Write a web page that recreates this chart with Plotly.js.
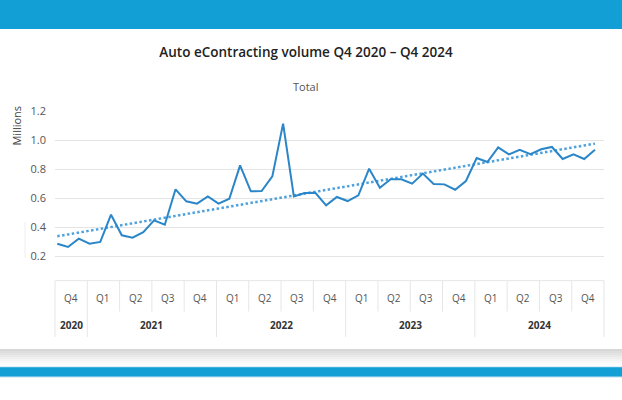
<!DOCTYPE html>
<html>
<head>
<meta charset="utf-8">
<script src="https://cdn.plot.ly/plotly-3.0.1.min.js"></script>
<style>
  html, body { margin: 0; padding: 0; background: #ffffff; }
  #chart { width: 622px; height: 400px; }
</style>
</head>
<body>
<div id="chart"></div>
<script>
// Monthly auto eContracting volume (millions), Oct 2020 – Dec 2024
const monthlyVolume = [
  0.285, 0.262, 0.320, 0.285, 0.297, 0.485, 0.343, 0.326, 0.365, 0.446,
  0.416, 0.660, 0.577, 0.561, 0.611, 0.561, 0.595, 0.825, 0.646, 0.648,
  0.749, 1.113, 0.611, 0.634, 0.636, 0.549, 0.607, 0.579, 0.618, 0.802,
  0.671, 0.729, 0.729, 0.699, 0.768, 0.697, 0.694, 0.657, 0.717, 0.876,
  0.848, 0.949, 0.901, 0.933, 0.903, 0.936, 0.952, 0.869, 0.901, 0.869,
  0.933
];
// Linear trend line end values (first and last month)
const trendEnds = [0.336, 0.975];

// Category axis table labels
const quarterLabels = ['Q4','Q1','Q2','Q3','Q4','Q1','Q2','Q3','Q4','Q1','Q2','Q3','Q4','Q1','Q2','Q3','Q4'];
const quarterYears  = ['2020','2021','2021','2021','2021','2022','2022','2022','2022','2023','2023','2023','2023','2024','2024','2024','2024'];
const yearLabels = ['2020','2021','2022','2023','2024'];

const yTicks = [0.2, 0.4, 0.6, 0.8, 1.0, 1.2];

const monthIndex = monthlyVolume.map((_, i) => i);

const lineColor = '#2a86c8';
const trendColor = '#4da2de';
const gridColor = '#e4e4e4';
const tableColor = '#e6e6e6';

const traces = [
  {
    x: [monthIndex[0], monthIndex[monthIndex.length - 1]],
    y: trendEnds,
    mode: 'lines',
    line: { color: trendColor, width: 2.5, dash: '2.5px,2.4px' },
    hoverinfo: 'skip',
    showlegend: false
  },
  {
    x: monthIndex,
    y: monthlyVolume,
    mode: 'lines',
    line: { color: lineColor, width: 2 },
    showlegend: false
  }
];

// Table geometry (paper coordinates)
const tTop = -0.170, tMid = -0.383, tBot = -0.559;
const qRowY = -0.293, yRowY = -0.479;
const nQ = quarterLabels.length;

const shapes = [];
const annotations = [];

// top border of table
shapes.push({ type: 'line', xref: 'paper', yref: 'paper', x0: 0, x1: 1, y0: tTop, y1: tTop,
  line: { color: tableColor, width: 1 } });

for (let q = 0; q <= nQ; q++) {
  const isYearEdge = (q === 0 || q === nQ || quarterYears[q] !== quarterYears[q - 1]);
  shapes.push({ type: 'line', xref: 'paper', yref: 'paper', x0: q / nQ, x1: q / nQ,
    y0: tTop, y1: isYearEdge ? tBot : tMid, line: { color: tableColor, width: 1 } });
}

quarterLabels.forEach((lab, q) => {
  annotations.push({ xref: 'paper', yref: 'paper', x: (q + 0.5) / nQ, y: qRowY,
    text: lab, showarrow: false, xanchor: 'center', yanchor: 'middle',
    font: { family: 'Open Sans, sans-serif', size: 10, color: '#555555' } });
});

yearLabels.forEach(yr => {
  const first = quarterYears.indexOf(yr);
  const last = quarterYears.lastIndexOf(yr);
  annotations.push({ xref: 'paper', yref: 'paper', x: (first + last + 1) / 2 / nQ, y: yRowY,
    text: '<b>' + yr + '</b>', showarrow: false, xanchor: 'center', yanchor: 'middle',
    font: { family: 'Open Sans, sans-serif', size: 10, color: '#333333' } });
});

// Subtitle and y-axis label
annotations.push({ xref: 'paper', yref: 'paper', x: 0.458, y: 1.169, text: 'Total',
  showarrow: false, xanchor: 'center', yanchor: 'middle',
  font: { family: 'Open Sans, sans-serif', size: 11, color: '#555555' } });
annotations.push({ xref: 'paper', yref: 'paper', x: -0.071, y: 0.90, text: 'Millions',
  textangle: -90, showarrow: false, xanchor: 'center', yanchor: 'middle',
  font: { family: 'Open Sans, sans-serif', size: 11, color: '#444444' } });

// Page decoration: top blue band, bottom shadow and blue band
const px2y = py => (256 - py) / 145;
const X0 = -0.2, X1 = 1.2;
shapes.push({ type: 'rect', xref: 'paper', yref: 'paper', x0: X0, x1: X1, y0: px2y(29), y1: px2y(-5),
  fillcolor: '#129fd6', line: { width: 0 }, layer: 'below' });
const shadeCols = ['#d7d7d7', '#dddddd', '#e3e3e3', '#e9e9e9', '#efefef', '#f4f4f4', '#f9f9f9', '#fcfcfc'];
shadeCols.forEach((c, i) => {
  shapes.push({ type: 'rect', xref: 'paper', yref: 'paper', x0: X0, x1: X1,
    y0: px2y(349 + 2 * (i + 1)), y1: px2y(349 + 2 * i), fillcolor: c, line: { width: 0 }, layer: 'below' });
});
shapes.push({ type: 'rect', xref: 'paper', yref: 'paper', x0: X0, x1: X1, y0: px2y(377.5), y1: px2y(366.5),
  fillcolor: '#bfe2f3', line: { width: 0 }, layer: 'below' });
shapes.push({ type: 'rect', xref: 'paper', yref: 'paper', x0: X0, x1: X1, y0: px2y(376.5), y1: px2y(367.3),
  fillcolor: '#129fd6', line: { width: 0 }, layer: 'below' });
// faint left artifact line
shapes.push({ type: 'line', xref: 'paper', yref: 'paper', x0: -0.0546, x1: -0.0546, y0: px2y(258), y1: px2y(222),
  line: { color: '#eeeeee', width: 1 } });

const layout = {
  width: 622, height: 400,
  margin: { l: 55, r: 18, t: 111, b: 144 },
  paper_bgcolor: '#ffffff',
  plot_bgcolor: '#ffffff',
  title: {
    text: 'Auto eContracting volume Q4 2020 – Q4 2024',
    xref: 'container', yref: 'container', x: 306 / 622, y: 1 - 52 / 400,
    xanchor: 'center', yanchor: 'middle',
    font: { family: 'Open Sans, sans-serif', size: 13.5, weight: 600, color: '#222222' }
  },
  xaxis: {
    range: [-0.21, 50.84],
    showticklabels: false, showgrid: false, zeroline: false,
    showline: true, linecolor: gridColor, linewidth: 1, ticks: ''
  },
  yaxis: {
    range: [0.2, 1.2],
    tickvals: yTicks,
    ticktext: yTicks.map(v => v.toFixed(1)),
    showgrid: true, gridcolor: gridColor, gridwidth: 1,
    zeroline: false, showline: false, ticks: '',
    ticklabelstandoff: 8,
    tickfont: { family: 'Open Sans, sans-serif', size: 11, color: '#555555' }
  },
  shapes: shapes,
  annotations: annotations,
  showlegend: false
};

Plotly.newPlot('chart', traces, layout, { displayModeBar: false, staticPlot: true });
</script>
</body>
</html>
